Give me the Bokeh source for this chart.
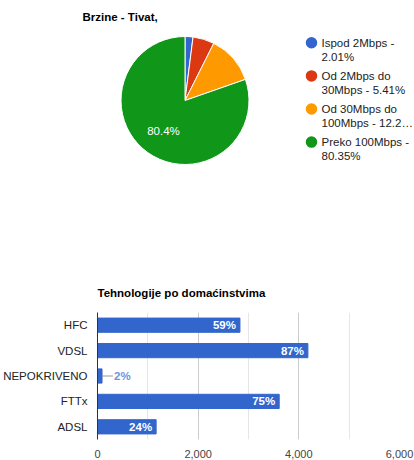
import numpy as np
from bokeh.plotting import figure
from bokeh.models import Range1d, FactorRange, FixedTicker, NumeralTickFormatter, ColumnDataSource
from bokeh.core.properties import value
from bokeh.embed import file_html
from bokeh.resources import INLINE

FONT = value("Liberation Sans")

# ---------------- data ----------------
speed_names = ["Ispod 2Mbps", "Od 2Mbps do 30Mbps", "Od 30Mbps do 100Mbps", "Preko 100Mbps"]
speed_shares = [2.01, 5.41, 12.23, 80.35]
speed_colors = ["#3366cc", "#dc3912", "#ff9900", "#109618"]
legend_line1 = ["Ispod 2Mbps -", "Od 2Mbps do", "Od 30Mbps do", "Preko 100Mbps -"]
legend_line2 = ["2.01%", "30Mbps - 5.41%", "100Mbps - 12.2\u2026", "80.35%"]

tech = ["HFC", "VDSL", "NEPOKRIVENO", "FTTx", "ADSL"]
households = [2830, 4180, 90, 3610, 1165]
tech_pct = ["59%", "87%", "2%", "75%", "24%"]
x_ticks = [0, 2000, 4000, 6000]
x_minor = [1000, 3000, 5000]

# ---------------- pie ----------------
W, H1 = 414, 270
p1 = figure(width=W, height=H1, x_range=Range1d(0, W), y_range=Range1d(0, H1),
            output_backend="svg", toolbar_location=None, min_border=0,
            x_axis_location=None, y_axis_location=None)
p1.grid.visible = False
p1.outline_line_color = None

cx, cy, r = 184.5, H1 - 100, 64
fr = np.array(speed_shares) / np.sum(speed_shares)
cend = np.cumsum(fr)
cstart = cend - fr
start = np.pi / 2 - 2 * np.pi * cend
end = np.pi / 2 - 2 * np.pi * cstart
p1.wedge(x=cx, y=cy, radius=r, start_angle=start, end_angle=end, direction="anticlock",
         fill_color=speed_colors, line_color="white", line_width=1)

# slice label for big slices
lab_x, lab_y, lab_t = [], [], []
for f, s, e in zip(fr, cstart, cend):
    if f > 0.15:
        mid = np.pi / 2 - 2 * np.pi * (s + e) / 2
        lab_x.append(cx + 0.58 * r * np.cos(mid))
        lab_y.append(cy + 0.58 * r * np.sin(mid))
        pct = np.floor(f * 1000 + 0.5 + 1e-6) / 10
        lab_t.append(f"{pct:.1f}%")
p1.text(x=lab_x, y=lab_y, text=lab_t, text_color="white", text_font=FONT,
        text_font_size="11.5px", text_align="center", text_baseline="middle")

# title
p1.text(x=[82], y=[H1 - 16], text=["Brzine - Tivat,"], text_font=FONT, text_font_size="11.5px",
        text_font_style="bold", text_color="#000000", text_baseline="middle")

# legend
rows = H1 - (42.3 + 33.1 * np.arange(len(speed_names)))
p1.scatter(x=[311] * len(rows), y=rows, size=11.5, fill_color=speed_colors, line_color=None)
p1.text(x=[321] * len(rows), y=rows, text=legend_line1, text_font=FONT, text_font_size="11.5px",
        text_color="#222222", text_baseline="middle")
p1.text(x=[321] * len(rows), y=rows - 13.7, text=legend_line2, text_font=FONT, text_font_size="11.5px",
        text_color="#222222", text_baseline="middle")

# ---------------- bars ----------------
H2 = 460 - H1
p2 = figure(width=W, height=H2, y_range=FactorRange(factors=tech[::-1]), x_range=Range1d(0, 6000),
            output_backend="svg", toolbar_location=None,
            min_border_left=97, min_border_right=15, min_border_top=42, min_border_bottom=18)
p2.outline_line_color = None
p2.title.text = "Tehnologije po domaćinstvima"
p2.title.text_font = "Liberation Sans"
p2.title.text_font_size = "11.5px"
p2.title.text_font_style = "bold"
p2.title.text_color = "#000000"
p2.title.align = "left"
p2.title.offset = 0
p2.title.standoff = 28

src = ColumnDataSource(dict(tech=tech, v=households, pct=tech_pct))
p2.hbar(y="tech", right="v", left=0, height=0.56, source=src, fill_color="#3366cc", line_color="#3366cc")

inside = [i for i, v in enumerate(households) if v > 500]
outside = [i for i, v in enumerate(households) if v <= 500]
p2.text(x=[households[i] for i in inside], y=[tech[i] for i in inside], text=[tech_pct[i] for i in inside],
        x_offset=-4, text_align="right", text_baseline="middle", text_color="white",
        text_font=FONT, text_font_size="11.5px", text_font_style="bold")
px_unit = 6000 / 302.0
p2.segment(x0=[households[i] for i in outside], x1=[households[i] + 11 * px_unit for i in outside],
           y0=[tech[i] for i in outside], y1=[tech[i] for i in outside], line_color="#999999", line_width=1)
p2.text(x=[households[i] + 12 * px_unit for i in outside], y=[tech[i] for i in outside],
        text=[tech_pct[i] for i in outside], text_align="left", text_baseline="middle",
        text_color="#6d93e0", text_font=FONT, text_font_size="11.5px", text_font_style="bold")

p2.xaxis.ticker = FixedTicker(ticks=x_ticks, minor_ticks=x_minor)
p2.xaxis.formatter = NumeralTickFormatter(format="0,0")
p2.xaxis.axis_line_color = None
p2.xaxis.major_tick_line_color = None
p2.xaxis.minor_tick_line_color = None
p2.xaxis.major_label_standoff = 4
p2.xaxis.major_label_text_font = "Liberation Sans"
p2.xaxis.major_label_text_font_size = "11px"
p2.xaxis.major_label_text_color = "#444444"

p2.yaxis.axis_line_color = "#333333"
p2.yaxis.major_tick_line_color = None
p2.yaxis.minor_tick_line_color = None
p2.yaxis.major_label_standoff = 4
p2.yaxis.major_label_text_font = "Liberation Sans"
p2.yaxis.major_label_text_font_size = "11.5px"
p2.yaxis.major_label_text_color = "#222222"

p2.xgrid.grid_line_color = "#cccccc"
p2.xgrid.minor_grid_line_color = "#e6e6e6"
p2.ygrid.grid_line_color = None

open("out.html", "w").write(file_html([p1, p2], INLINE))
